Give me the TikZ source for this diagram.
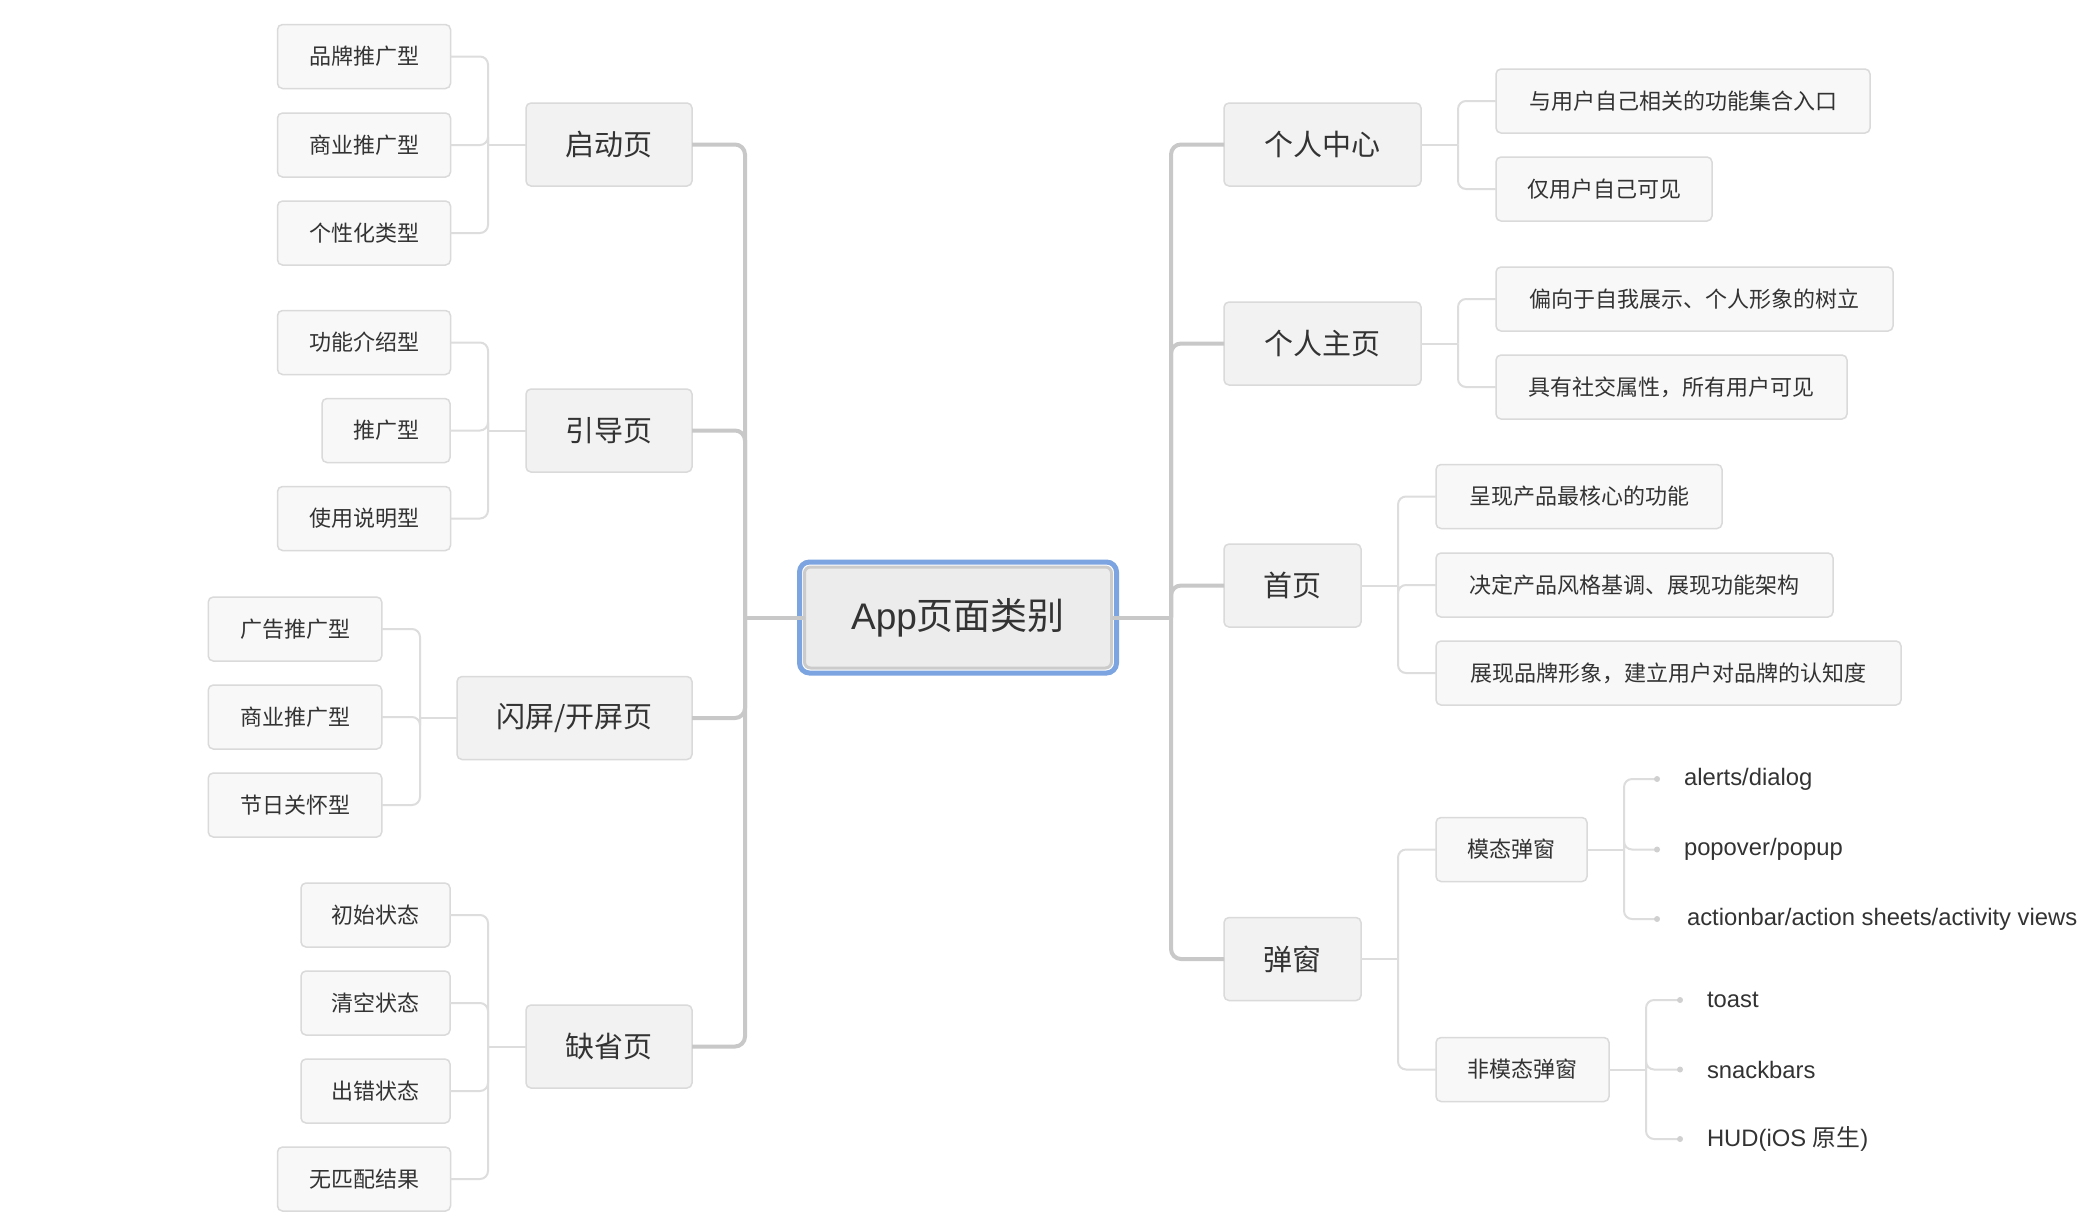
\documentclass[tikz,border=0pt]{standalone}
\usepackage{fontspec}
\setmainfont{Noto Sans CJK SC}
\newfontfamily\latinleaf{Liberation Sans}
\definecolor{txt}{HTML}{333333}
\definecolor{bordc}{HTML}{DADADA}
\definecolor{fillone}{HTML}{F2F2F2}
\definecolor{filltwo}{HTML}{F8F8F8}
\definecolor{trunkc}{HTML}{C8C8C8}
\definecolor{connc}{HTML}{DDDDDD}
\definecolor{rootfill}{HTML}{ECECEC}
\definecolor{rootbord}{HTML}{CBCBCB}
\definecolor{ringc}{HTML}{7BA4E0}
\definecolor{dotc}{HTML}{D0D0D0}
\begin{document}
\begin{tikzpicture}[x=0.5pt,y=-0.5pt,
  box/.style={draw=bordc,line width=0.75pt,rounded corners=2.5pt,outer sep=0pt,inner sep=0pt,text=txt,align=center},
  lvone/.style={box,fill=fillone,minimum height=41.5pt,font=\fontsize{14.5}{17}\selectfont},
  lvtwo/.style={box,fill=filltwo,minimum height=32pt,font=\fontsize{11}{13}\selectfont},
  leaf/.style={anchor=west,inner sep=0pt,outer sep=0pt,text=txt,font=\latinleaf\fontsize{11.9}{14}\selectfont},
  rootbox/.style={draw=rootbord,line width=1.5pt,fill=rootfill,rounded corners=3pt,outer sep=0pt,inner sep=0pt,
    minimum width=153.5pt,minimum height=50.5pt,text=txt,font=\fontsize{18.5}{22}\selectfont},
  trunk/.style={draw=trunkc,line width=2pt,rounded corners=5pt},
  conn/.style={draw=connc,line width=1pt,rounded corners=4pt},
  ldot/.style={fill=dotc}
]
\useasboundingbox[fill=white] (0,0) rectangle (2096,1226);

% root
\node[rootbox] (root) at (958,617.5) {{\latinleaf App}页面类别};
\draw[draw=ringc,line width=2.5pt,rounded corners=5pt] ([shift={(-5,-5)}]root.north west) rectangle ([shift={(5,5)}]root.south east);

% left level 1
\node[lvone,minimum width=83pt] (qdy) at (609,144.5) {启动页};
\node[lvone,minimum width=83pt] (ydy) at (609,430.5) {引导页};
\node[lvone,minimum width=117.5pt] (spy) at (574.5,718) {闪屏/开屏页};
\node[lvone,minimum width=83pt] (qsy) at (609,1046.5) {缺省页};

% left level 2
\node[lvtwo,minimum width=86.5pt] (a1) at (364,56.5) {品牌推广型};
\node[lvtwo,minimum width=86.5pt] (a2) at (364,145) {商业推广型};
\node[lvtwo,minimum width=86.5pt] (a3) at (364,233) {个性化类型};
\node[lvtwo,minimum width=86.5pt] (b1) at (364,342.5) {功能介绍型};
\node[lvtwo,minimum width=64pt] (b2) at (386,430.5) {推广型};
\node[lvtwo,minimum width=86.5pt] (b3) at (364,518.5) {使用说明型};
\node[lvtwo,minimum width=86.75pt] (c1) at (295,629) {广告推广型};
\node[lvtwo,minimum width=86.75pt] (c2) at (295,717) {商业推广型};
\node[lvtwo,minimum width=86.75pt] (c3) at (295,805) {节日关怀型};
\node[lvtwo,minimum width=74.5pt] (d1) at (375.5,915) {初始状态};
\node[lvtwo,minimum width=74.5pt] (d2) at (375.5,1003) {清空状态};
\node[lvtwo,minimum width=74.5pt] (d3) at (375.5,1091) {出错状态};
\node[lvtwo,minimum width=86.5pt] (d4) at (364,1179) {无匹配结果};

% right level 1
\node[lvone,minimum width=98.5pt] (grzx) at (1322.5,144.5) {个人中心};
\node[lvone,minimum width=98.5pt] (grzy) at (1322.5,343.5) {个人主页};
\node[lvone,minimum width=68.5pt] (sy) at (1292.5,585.5) {首页};
\node[lvone,minimum width=68.5pt] (tc) at (1292.5,959) {弹窗};

% right level 2
\node[lvtwo,minimum width=187pt] (e1) at (1683,101) {与用户自己相关的功能集合入口};
\node[lvtwo,minimum width=108pt] (e2) at (1604,189) {仅用户自己可见};
\node[lvtwo,minimum width=198.5pt] (f1) at (1694.5,299) {偏向于自我展示、个人形象的树立};
\node[lvtwo,minimum width=175.5pt] (f2) at (1671.5,387) {具有社交属性，所有用户可见};
\node[lvtwo,minimum width=143pt] (g1) at (1579,496.5) {呈现产品最核心的功能};
\node[lvtwo,minimum width=198.5pt] (g2) at (1634.5,585) {决定产品风格基调、展现功能架构};
\node[lvtwo,minimum width=232.5pt] (g3) at (1668.5,673) {展现品牌形象，建立用户对品牌的认知度};
\node[lvtwo,minimum width=75.5pt] (h1) at (1511.5,849.5) {模态弹窗};
\node[lvtwo,minimum width=86.5pt] (h2) at (1522.5,1069.5) {非模态弹窗};

% leaves
\node[leaf] (m1) at (1684,779) {alerts/dialog};
\node[leaf] (m2) at (1684,849.5) {popover/popup};
\node[leaf] (m3) at (1687,919) {actionbar/action sheets/activity views};
\node[leaf] (n1) at (1707,1000) {toast};
\node[leaf] (n2) at (1707,1069.5) {snackbars};
\node[leaf] (n3) at (1707,1139) {HUD(iOS {\rmfamily 原生})};

% trunks
\coordinate (tL) at (745,617.5);
\coordinate (tR) at (1171,617.5);
\draw[trunk] (root.west) -- (tL);
\draw[trunk] (root.east) -- (tR);
\foreach \n in {qdy,ydy,spy,qsy} \draw[trunk] (tL) |- (\n.east);
\foreach \n in {grzx,grzy,sy,tc} \draw[trunk] (tR) |- (\n.west);

% left brackets
\coordinate (ka) at (488,144.5);
\coordinate (kb) at (488,430.5);
\coordinate (kc) at (420,718);
\coordinate (kd) at (488,1046.5);
\draw[conn] (qdy.west) -- (ka);
\draw[conn] (ydy.west) -- (kb);
\draw[conn] (spy.west) -- (kc);
\draw[conn] (qsy.west) -- (kd);
\foreach \n in {a1,a2,a3} \draw[conn] (ka) |- (\n.east);
\foreach \n in {b1,b2,b3} \draw[conn] (kb) |- (\n.east);
\foreach \n in {c1,c2,c3} \draw[conn] (kc) |- (\n.east);
\foreach \n in {d1,d2,d3,d4} \draw[conn] (kd) |- (\n.east);

% right brackets
\coordinate (ke) at (1458,144.5);
\coordinate (kf) at (1458,343.5);
\coordinate (kg) at (1398,585.5);
\coordinate (kh) at (1398,959);
\draw[conn] (grzx.east) -- (ke);
\draw[conn] (grzy.east) -- (kf);
\draw[conn] (sy.east) -- (kg);
\draw[conn] (tc.east) -- (kh);
\foreach \n in {e1,e2} \draw[conn] (ke) |- (\n.west);
\foreach \n in {f1,f2} \draw[conn] (kf) |- (\n.west);
\foreach \n in {g1,g2,g3} \draw[conn] (kg) |- (\n.west);
\foreach \n in {h1,h2} \draw[conn] (kh) |- (\n.west);

% leaf brackets with dots
\coordinate (km) at (1624,849.5);
\coordinate (kn) at (1646,1069.5);
\draw[conn] (h1.east) -- (km);
\draw[conn] (h2.east) -- (kn);
\coordinate (pm1) at (1657,779);
\coordinate (pm2) at (1657,849.5);
\coordinate (pm3) at (1657,919);
\coordinate (pn1) at (1680,1000);
\coordinate (pn2) at (1680,1069.5);
\coordinate (pn3) at (1680,1139);
\foreach \p in {pm1,pm2,pm3} {\draw[conn] (km) |- (\p); \fill[ldot] (\p) circle (1.5pt);}
\foreach \p in {pn1,pn2,pn3} {\draw[conn] (kn) |- (\p); \fill[ldot] (\p) circle (1.5pt);}
\end{tikzpicture}
\end{document}
